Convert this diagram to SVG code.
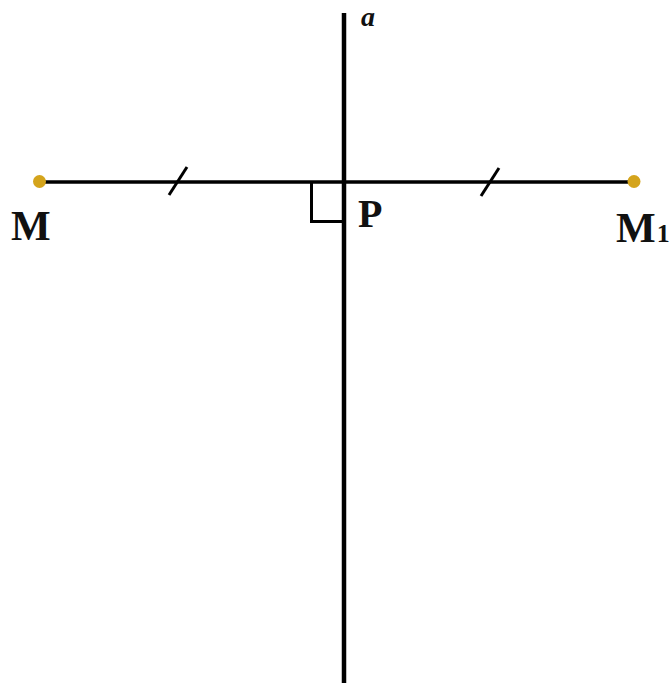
<svg xmlns="http://www.w3.org/2000/svg" width="669" height="685" viewBox="0 0 669 685">
<style>
.ln{stroke:#000;fill:none;stroke-linecap:butt}
.pt{fill:#D4A41C}
.lb{font-family:"Liberation Serif","Times New Roman",serif;font-weight:bold;fill:#111}
</style>
<rect width="669" height="685" fill="#fff"/>
<g id="connectors">
<line class="ln" x1="40" y1="182" x2="634" y2="182" stroke-width="3.5"/>
<line class="ln" x1="344" y1="13" x2="344" y2="683" stroke-width="4.5"/>
<line class="ln" x1="169" y1="195" x2="187" y2="167" stroke-width="3"/>
<line class="ln" x1="481" y1="196" x2="499" y2="168" stroke-width="3"/>
<polyline class="ln" points="311.5,182 311.5,221.5 344,221.5" stroke-width="3"/>
</g>
<g id="node-M">
<circle class="pt" cx="39.5" cy="181.5" r="6.5"/>
<text class="lb" x="11" y="240" font-size="42">M</text>
</g>
<g id="node-M1">
<circle class="pt" cx="634" cy="181.5" r="6.5"/>
<text class="lb" x="616" y="242" font-size="42">M<tspan font-size="26" dx="1">1</tspan></text>
</g>
<g id="node-P">
<text class="lb" x="358" y="227" font-size="40">P</text>
</g>
<g id="node-a">
<text class="lb" x="361" y="26" font-size="28" font-style="italic">a</text>
</g>
</svg>
